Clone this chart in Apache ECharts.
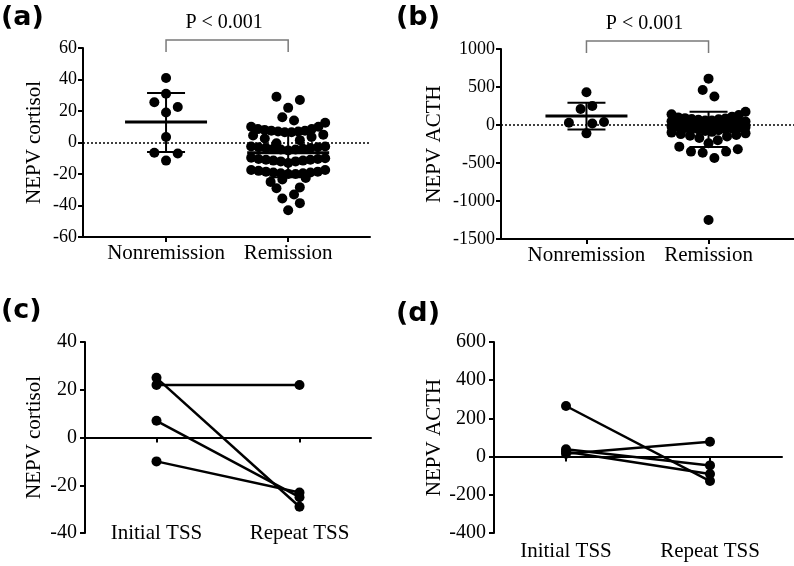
<!DOCTYPE html>
<html>
<head>
<meta charset="utf-8">
<script src="https://cdn.jsdelivr.net/npm/echarts@6/dist/echarts.min.js"></script>
<style>html,body{margin:0;padding:0;background:#fff}#c{width:794px;height:566px}</style>
</head>
<body>
<div id="c"></div>
<script>
// ---------------- data ----------------
const catsTop = ['Nonremission', 'Remission'];
const catsBottom = ['Initial TSS', 'Repeat TSS'];

// beeswarm rows, listed left to right as seen (null = empty slot)
const cortNonRows = [[41], [31], [25.5, null, 22.5], [19], [3.5], [-6.5, null, -7], [-11.5]];
const cortRemRows = [
  [29, null, 27], [22], [16, 14],
  [10, 8.5, 8, 7.5, 7, 6.5, 6.5, 7, 7.5, 8.5, 10, 12.5],
  [4.5, 2.5, -0.5, null, 1.5, 3.5, 5],
  [-2.5, -3, -3.5, -4, -4.5, -5, -4.5, -4, -3.5, -3, -2.5],
  [-9.7, -10.5, -11, -11.5, -12, -13, -12, -11.5, -11, -10.5, -10],
  [-17.5, -18, -18.5, -19, -19.5, -20, -20, -19.5, -19, -18.5, -17.5],
  [-25, -23.5, null, -22.5],
  [-29, null, -28.5],
  [-35.5, -33],
  [null, null, -38.5],
  [-43]
];
const acthNonRows = [[430], [210, 250], [30, null, 20, 40], [-110]];
const acthRemRows = [
  [610], [460, 375],
  [140, 100, 90, 80, 70, 60, 60, 75, 85, 110, 132, 175],
  [50, 40, 30, 20, 10, 0, -10, -5, 5, 15, 25, 35, 45],
  [-20, -30, -40, -50, -60, -80, -90, -70, -55, -45, -35, -25],
  [-100, -120, -140, -170, -240, -200, -150, -130, -110],
  [-285, -350, -365, -435, -350, -320],
  [-1250]
];

// mean and SD limits (Nonremission, Remission)
const cortMean = [13, -6.5], cortSdHi = [31.5, 8], cortSdLo = [-6, -22];
const acthMean = [118, -58], acthSdHi = [294, 175], acthSdLo = [-60, -290];

// paired before/after values
const cortInitial = [25, 22, 7, -10], cortRepeat = [-29, 22, -25, -23];
const acthInitial = [265, 15, 38, 25], acthRepeat = [-128, 78, -46, -91];

// y tick labels
const ticksA = [-60, -40, -20, 0, 20, 40, 60];
const ticksB = [-1500, -1000, -500, 0, 500, 1000];
const ticksC = [-40, -20, 0, 20, 40];
const ticksD = [-400, -200, 0, 200, 400, 600];

const pLabel = 'P < 0.001';

// ---------------- layout ----------------
const G = {
  a: {left: 83, top: 48, width: 287, height: 189, xMin: 0.32, xMax: 2.67},
  b: {left: 501, top: 49, width: 293, height: 190, xMin: 0.30, xMax: 2.70},
  c: {left: 85, top: 342, width: 286, height: 191},
  d: {left: 494, top: 342, width: 288, height: 191}
};
const SERIF = '"Liberation Serif", "Times New Roman", serif';
const GAP = 11.7, HALFW = 37;

function swarmRows(rows, center, pxPerUnit) {
  const out = [];
  rows.forEach(row => {
    const n = row.length;
    const sp = n > 1 ? Math.min(GAP, 2 * HALFW / (n - 1)) : 0;
    row.forEach((v, i) => {
      if (v === null) return;
      out.push([center + (i - (n - 1) / 2) * sp / pxPerUnit, v]);
    });
  });
  return out;
}
const pxA = G.a.width / (G.a.xMax - G.a.xMin);
const pxB = G.b.width / (G.b.xMax - G.b.xMin);

const line = {color: '#000', width: 2};

function valueX(gi, g, labelMargin) {
  return {
    type: 'value', gridIndex: gi, min: g.xMin, max: g.xMax,
    axisLine: {show: true, onZero: false, lineStyle: line},
    axisTick: {show: true, length: 5, lineStyle: line, customValues: [1, 2]},
    axisLabel: {customValues: [1, 2], formatter: v => catsTop[Math.round(v) - 1],
      fontFamily: SERIF, fontSize: 21, color: '#000', margin: labelMargin},
    splitLine: {show: false}
  };
}
function catLineX(gi) {
  return {
    type: 'category', gridIndex: gi, data: catsBottom, boundaryGap: true, position: 'bottom',
    axisLine: {show: true, onZero: true, lineStyle: line},
    axisTick: {show: true, alignWithLabel: true, length: 5, lineStyle: line},
    axisLabel: {show: false}, splitLine: {show: false}
  };
}
function catLabelX(gi, offset, margin) {
  return {
    type: 'category', gridIndex: gi, data: catsBottom, boundaryGap: true, position: 'bottom',
    offset: offset,
    axisLine: {show: false, onZero: false}, axisTick: {show: false},
    axisLabel: {show: true, fontFamily: SERIF, fontSize: 21, color: '#000', margin: margin},
    splitLine: {show: false}
  };
}
function yAx(gi, ticks, name, gap, fs, margin) {
  return {
    type: 'value', gridIndex: gi, min: ticks[0], max: ticks[ticks.length - 1],
    interval: ticks[1] - ticks[0],
    axisLine: {show: true, onZero: false, lineStyle: line},
    axisTick: {show: true, length: 5, lineStyle: line, customValues: ticks},
    axisLabel: {show: true, customValues: ticks, formatter: v => '{t|' + String(v) + '}',
      fontFamily: SERIF, fontSize: fs, color: '#000', margin: margin,
      rich: {t: {fontFamily: SERIF, fontSize: fs, color: '#000'}}},
    splitLine: {show: false},
    name: name, nameLocation: 'middle', nameGap: gap,
    nameTextStyle: {fontFamily: SERIF, fontSize: 21, color: '#000'}
  };
}

function errRender(params, api) {
  const x = api.value(0);
  const pm = api.coord([x, api.value(1)]);
  const pt = api.coord([x, api.value(2)]);
  const pb = api.coord([x, api.value(3)]);
  const cap = 19, half = 41;
  return {type: 'group', children: [
    {type: 'line', shape: {x1: pt[0], y1: pt[1], x2: pb[0], y2: pb[1]}, style: {stroke: '#000', lineWidth: 2}},
    {type: 'line', shape: {x1: pt[0] - cap, y1: pt[1], x2: pt[0] + cap, y2: pt[1]}, style: {stroke: '#000', lineWidth: 2}},
    {type: 'line', shape: {x1: pb[0] - cap, y1: pb[1], x2: pb[0] + cap, y2: pb[1]}, style: {stroke: '#000', lineWidth: 2}},
    {type: 'line', shape: {x1: pm[0] - half, y1: pm[1], x2: pm[0] + half, y2: pm[1]}, style: {stroke: '#000', lineWidth: 3}}
  ]};
}
function bracketRender(yMax) {
  return function (params, api) {
    const p1 = api.coord([api.value(0), yMax]);
    const p2 = api.coord([api.value(1), yMax]);
    const yTop = p1[1] - 8;
    return {type: 'group', children: [
      {type: 'polyline', shape: {points: [[p1[0], yTop + 12], [p1[0], yTop], [p2[0], yTop], [p2[0], yTop + 12]]},
        style: {stroke: '#7a7a7a', lineWidth: 1.5, fill: null}},
      {type: 'text', x: (p1[0] + p2[0]) / 2 - 3, y: p1[1] - 25,
        style: {text: pLabel, font: '20px ' + SERIF, fill: '#000', align: 'center', verticalAlign: 'middle'}}
    ]};
  };
}
const zeroDotted = {
  silent: true, symbol: ['none', 'none'], label: {show: false},
  lineStyle: {color: '#000', type: [2, 2], width: 1.5, opacity: 1}, emphasis: {disabled: true},
  data: [{yAxis: 0}]
};
function scatter(xi, data, withZero) {
  const s = {type: 'scatter', xAxisIndex: xi, yAxisIndex: xi, data, symbol: 'circle', symbolSize: 10,
    itemStyle: {color: '#000', opacity: 1}, silent: true, z: 3};
  if (withZero) s.markLine = zeroDotted;
  return s;
}
function stats(xi, mean, hi, lo) {
  return {type: 'custom', xAxisIndex: xi, yAxisIndex: xi, clip: false, silent: true, z: 5,
    renderItem: errRender, encode: {x: 0, y: 1},
    data: mean.map((m, i) => [i + 1, m, hi[i], lo[i]])};
}
function bracket(xi, yMax) {
  return {type: 'custom', xAxisIndex: xi, yAxisIndex: xi, clip: false, silent: true, z: 5,
    renderItem: bracketRender(yMax), encode: {x: [0, 1]}, data: [[1, 2]]};
}
function pairLines(xi, yi, a, b) {
  return a.map((v, i) => ({
    type: 'line', xAxisIndex: xi, yAxisIndex: yi, data: [v, b[i]],
    symbol: 'circle', symbolSize: 10, showSymbol: true, silent: true,
    lineStyle: {color: '#000', width: 2.5, opacity: 1}, itemStyle: {color: '#000', opacity: 1}, z: 3
  }));
}

const option = {
  animation: false,
  backgroundColor: '#fff',
  textStyle: {fontFamily: SERIF, color: '#000'},
  grid: [
    {left: G.a.left, top: G.a.top, width: G.a.width, height: G.a.height, containLabel: false},
    {left: G.b.left, top: G.b.top, width: G.b.width, height: G.b.height, containLabel: false},
    {left: G.c.left, top: G.c.top, width: G.c.width, height: G.c.height, containLabel: false},
    {left: G.d.left, top: G.d.top, width: G.d.width, height: G.d.height, containLabel: false}
  ],
  xAxis: [
    valueX(0, G.a, 6),
    valueX(1, G.b, 6),
    catLineX(2),
    catLineX(3),
    catLabelX(2, -16, 6),
    catLabelX(3, 0, 8)
  ],
  yAxis: [
    yAx(0, ticksA, 'NEPV cortisol', 38, 18, 6),
    yAx(1, ticksB, 'NEPV ACTH', 56, 18, 6),
    yAx(2, ticksC, 'NEPV cortisol', 40, 20, 8),
    yAx(3, ticksD, 'NEPV ACTH', 49, 20, 8)
  ],
  graphic: [
    {type: 'text', left: 1, top: 4, style: {text: '(a)', font: 'bold 27px "DejaVu Sans"', fill: '#000'}},
    {type: 'text', left: 396, top: 4, style: {text: '(b)', font: 'bold 27px "DejaVu Sans"', fill: '#000'}},
    {type: 'text', left: 1, top: 297, style: {text: '(c)', font: 'bold 27px "DejaVu Sans"', fill: '#000'}},
    {type: 'text', left: 396, top: 300, style: {text: '(d)', font: 'bold 27px "DejaVu Sans"', fill: '#000'}}
  ],
  series: [
    scatter(0, swarmRows(cortNonRows, 1, pxA), true),
    scatter(0, swarmRows(cortRemRows, 2, pxA), false),
    stats(0, cortMean, cortSdHi, cortSdLo),
    bracket(0, 60),
    scatter(1, swarmRows(acthNonRows, 1, pxB), true),
    scatter(1, swarmRows(acthRemRows, 2, pxB), false),
    stats(1, acthMean, acthSdHi, acthSdLo),
    bracket(1, 1000),
    ...pairLines(2, 2, cortInitial, cortRepeat),
    ...pairLines(3, 3, acthInitial, acthRepeat)
  ]
};
const chart = echarts.init(document.getElementById('c'));
chart.setOption(option);
</script>
</body>
</html>
